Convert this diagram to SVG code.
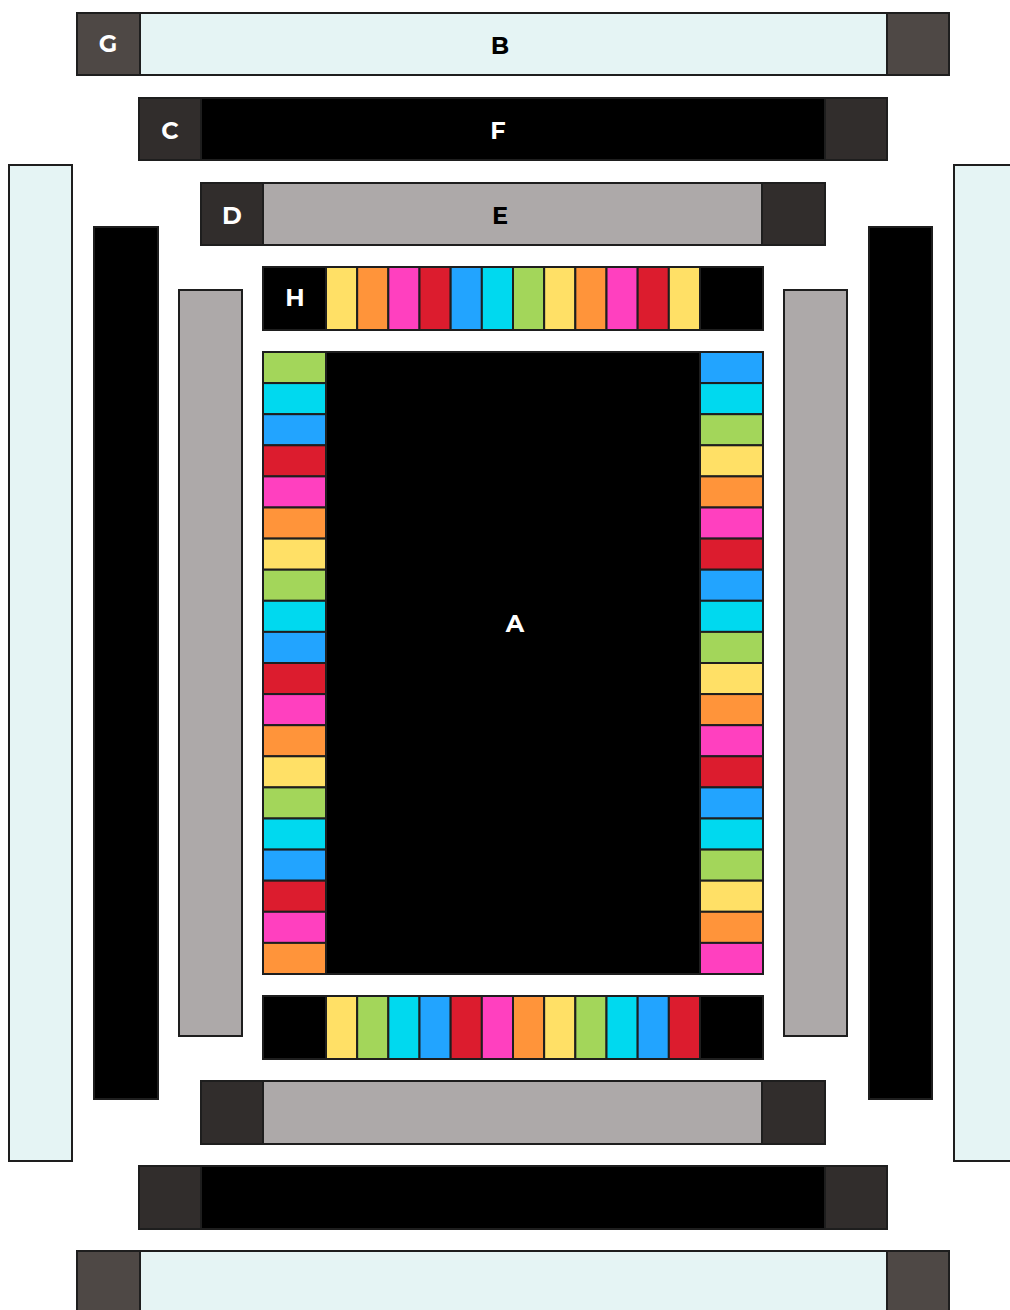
<svg xmlns="http://www.w3.org/2000/svg" width="1010" height="1310" viewBox="0 0 1010 1310">
<style>
rect{stroke:#1e1e1e;stroke-width:2}
.lt{fill:#E5F4F4}.dk{fill:#312D2C}.gd{fill:#4E4845}.bk{fill:#000}.gr{fill:#ADA9A9}
.y{fill:#FFE066}.o{fill:#FF943A}.p{fill:#FF40BF}.r{fill:#DC1C2E}.b{fill:#22A4FF}.c{fill:#00D9EF}.g{fill:#A3D65A}
text{font-family:"Montserrat","Inter","Liberation Sans",sans-serif;font-weight:700;font-size:24px;text-anchor:middle;dominant-baseline:central}
.w{fill:#fff}.k{fill:#000}
</style>
<rect x="0" y="0" width="1010" height="1310" fill="#fff" style="stroke:none"/>
<g id="G"><rect class="gd" x="77" y="13" width="63" height="62"/><text class="w" x="108" y="43">G</text></g>
<g id="B"><rect class="lt" x="140" y="13" width="747" height="62"/><rect class="gd" x="887" y="13" width="62" height="62"/><text class="k" x="500" y="45">B</text></g>
<g id="C"><rect class="dk" x="139" y="98" width="62" height="62"/><text class="w" x="170" y="130">C</text></g>
<g id="F"><rect class="bk" x="201" y="98" width="624" height="62"/><rect class="dk" x="825" y="98" width="62" height="62"/><text class="w" x="498" y="130">F</text></g>
<g id="D"><rect class="dk" x="201" y="183" width="62" height="62"/><text class="w" x="232" y="215">D</text></g>
<g id="E"><rect class="gr" x="263" y="183" width="499" height="62"/><rect class="dk" x="762" y="183" width="63" height="62"/><text class="k" x="500" y="215">E</text></g>
<g id="side-left"><rect class="lt" x="9" y="165" width="63" height="996"/><rect class="bk" x="94" y="227" width="64" height="872"/><rect class="gr" x="179" y="290" width="63" height="746"/></g>
<g id="side-right"><rect class="gr" x="784" y="290" width="63" height="746"/><rect class="bk" x="869" y="227" width="63" height="872"/><rect class="lt" x="954" y="165" width="63" height="996"/></g>
<g id="H"><rect class="bk" x="263" y="267" width="500" height="63"/>
<rect class="y" x="326" y="267" width="31.17" height="63"/><rect class="o" x="357.17" y="267" width="31.17" height="63"/><rect class="p" x="388.33" y="267" width="31.17" height="63"/><rect class="r" x="419.5" y="267" width="31.17" height="63"/><rect class="b" x="450.67" y="267" width="31.17" height="63"/><rect class="c" x="481.83" y="267" width="31.17" height="63"/><rect class="g" x="513" y="267" width="31.17" height="63"/><rect class="y" x="544.17" y="267" width="31.17" height="63"/><rect class="o" x="575.33" y="267" width="31.17" height="63"/><rect class="p" x="606.5" y="267" width="31.17" height="63"/><rect class="r" x="637.67" y="267" width="31.17" height="63"/><rect class="y" x="668.83" y="267" width="31.17" height="63"/>
<text class="w" x="295" y="297">H</text></g>
<g id="A"><rect class="bk" x="263" y="352" width="500" height="622"/>
<rect class="g" x="263" y="352" width="63" height="31.1"/><rect class="c" x="263" y="383.1" width="63" height="31.1"/><rect class="b" x="263" y="414.2" width="63" height="31.1"/><rect class="r" x="263" y="445.3" width="63" height="31.1"/><rect class="p" x="263" y="476.4" width="63" height="31.1"/><rect class="o" x="263" y="507.5" width="63" height="31.1"/><rect class="y" x="263" y="538.6" width="63" height="31.1"/><rect class="g" x="263" y="569.7" width="63" height="31.1"/><rect class="c" x="263" y="600.8" width="63" height="31.1"/><rect class="b" x="263" y="631.9" width="63" height="31.1"/><rect class="r" x="263" y="663" width="63" height="31.1"/><rect class="p" x="263" y="694.1" width="63" height="31.1"/><rect class="o" x="263" y="725.2" width="63" height="31.1"/><rect class="y" x="263" y="756.3" width="63" height="31.1"/><rect class="g" x="263" y="787.4" width="63" height="31.1"/><rect class="c" x="263" y="818.5" width="63" height="31.1"/><rect class="b" x="263" y="849.6" width="63" height="31.1"/><rect class="r" x="263" y="880.7" width="63" height="31.1"/><rect class="p" x="263" y="911.8" width="63" height="31.1"/><rect class="o" x="263" y="942.9" width="63" height="31.1"/>
<rect class="b" x="700" y="352" width="63" height="31.1"/><rect class="c" x="700" y="383.1" width="63" height="31.1"/><rect class="g" x="700" y="414.2" width="63" height="31.1"/><rect class="y" x="700" y="445.3" width="63" height="31.1"/><rect class="o" x="700" y="476.4" width="63" height="31.1"/><rect class="p" x="700" y="507.5" width="63" height="31.1"/><rect class="r" x="700" y="538.6" width="63" height="31.1"/><rect class="b" x="700" y="569.7" width="63" height="31.1"/><rect class="c" x="700" y="600.8" width="63" height="31.1"/><rect class="g" x="700" y="631.9" width="63" height="31.1"/><rect class="y" x="700" y="663" width="63" height="31.1"/><rect class="o" x="700" y="694.1" width="63" height="31.1"/><rect class="p" x="700" y="725.2" width="63" height="31.1"/><rect class="r" x="700" y="756.3" width="63" height="31.1"/><rect class="b" x="700" y="787.4" width="63" height="31.1"/><rect class="c" x="700" y="818.5" width="63" height="31.1"/><rect class="g" x="700" y="849.6" width="63" height="31.1"/><rect class="y" x="700" y="880.7" width="63" height="31.1"/><rect class="o" x="700" y="911.8" width="63" height="31.1"/><rect class="p" x="700" y="942.9" width="63" height="31.1"/>
<text class="w" x="515" y="623">A</text></g>
<g id="strip-bottom"><rect class="bk" x="263" y="996" width="500" height="63"/>
<rect class="y" x="326" y="996" width="31.17" height="63"/><rect class="g" x="357.17" y="996" width="31.17" height="63"/><rect class="c" x="388.33" y="996" width="31.17" height="63"/><rect class="b" x="419.5" y="996" width="31.17" height="63"/><rect class="r" x="450.67" y="996" width="31.17" height="63"/><rect class="p" x="481.83" y="996" width="31.17" height="63"/><rect class="o" x="513" y="996" width="31.17" height="63"/><rect class="y" x="544.17" y="996" width="31.17" height="63"/><rect class="g" x="575.33" y="996" width="31.17" height="63"/><rect class="c" x="606.5" y="996" width="31.17" height="63"/><rect class="b" x="637.67" y="996" width="31.17" height="63"/><rect class="r" x="668.83" y="996" width="31.17" height="63"/></g>
<g id="row-e-bottom"><rect class="dk" x="201" y="1081" width="62" height="63"/><rect class="gr" x="263" y="1081" width="499" height="63"/><rect class="dk" x="762" y="1081" width="63" height="63"/></g>
<g id="row-f-bottom"><rect class="dk" x="139" y="1166" width="62" height="63"/><rect class="bk" x="201" y="1166" width="624" height="63"/><rect class="dk" x="825" y="1166" width="62" height="63"/></g>
<g id="row-b-bottom"><rect class="gd" x="77" y="1251" width="63" height="70"/><rect class="lt" x="140" y="1251" width="747" height="70"/><rect class="gd" x="887" y="1251" width="62" height="70"/></g>
<g id="connectors"></g>
</svg>
